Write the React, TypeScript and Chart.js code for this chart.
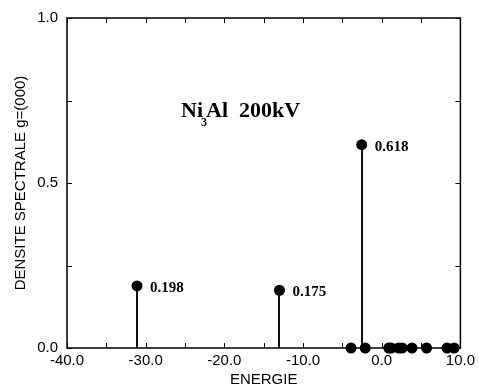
import React, { useEffect, useRef } from "react";
import { Chart, registerables } from "chart.js";

Chart.register(...registerables);

const peakEnergies = [-31.1, -13.0, -2.55];
const peakValues = [0.188, 0.175, 0.616];
const peakLabels = ["0.198", "0.175", "0.618"];
const zeroEnergies = [-3.9, -2.1, 0.9, 1.2, 2.15, 2.6, 3.85, 5.7, 8.3, 9.2];
const xTickLabels = ["-40.0", "-30.0", "-20.0", "-10.0", "0.0", "10.0"];
const yTickLabels = ["0.0", "0.5", "1.0"];
const titleMain = "Ni";
const titleSub = "3";
const titleRest = "Al";
const titleVoltage = "200kV";
const titlePos = { x: -25.5, y: 0.7 };

const SANS = "'Liberation Sans', Arial, sans-serif";
const SERIF = "'Liberation Serif', 'Times New Roman', serif";

const framePlugin = {
  id: "framePlugin",
  beforeDatasetsDraw(chart: any) {
    const { ctx, chartArea: a, scales } = chart;
    const xs = scales.x;
    const ys = scales.y;
    ctx.save();
    // stems
    ctx.strokeStyle = "#111";
    ctx.lineWidth = 2;
    peakEnergies.forEach((e, i) => {
      const px = Math.round(xs.getPixelForValue(e));
      ctx.beginPath();
      ctx.moveTo(px, ys.getPixelForValue(0));
      ctx.lineTo(px, ys.getPixelForValue(peakValues[i]));
      ctx.stroke();
    });
    ctx.restore();
  },
  afterDatasetsDraw(chart: any) {
    const { ctx, chartArea: a, scales } = chart;
    const xs = scales.x;
    const ys = scales.y;
    ctx.save();
    ctx.strokeStyle = "#000";
    ctx.lineWidth = 1.5;
    ctx.strokeRect(a.left, a.top, a.right - a.left, a.bottom - a.top);
    const tl = 5;
    ctx.lineWidth = 1;
    xs.ticks.forEach((t: any) => {
      const px = Math.round(xs.getPixelForValue(t.value)) + 0.5;
      ctx.beginPath();
      ctx.moveTo(px, a.bottom);
      ctx.lineTo(px, a.bottom - tl);
      ctx.moveTo(px, a.top);
      ctx.lineTo(px, a.top + tl);
      ctx.stroke();
    });
    ys.ticks.forEach((t: any) => {
      const py = Math.round(ys.getPixelForValue(t.value)) + 0.5;
      ctx.beginPath();
      ctx.moveTo(a.left, py);
      ctx.lineTo(a.left + tl, py);
      ctx.moveTo(a.right, py);
      ctx.lineTo(a.right - tl, py);
      ctx.stroke();
    });
    // value labels
    ctx.fillStyle = "#000";
    ctx.font = `bold 15px ${SERIF}`;
    ctx.textBaseline = "middle";
    ctx.textAlign = "left";
    peakEnergies.forEach((e, i) => {
      const px = xs.getPixelForValue(e);
      const py = ys.getPixelForValue(peakValues[i]);
      ctx.fillText(peakLabels[i], px + 13, py + 2);
    });
    // title
    ctx.textBaseline = "alphabetic";
    const tx = xs.getPixelForValue(titlePos.x);
    const ty = ys.getPixelForValue(titlePos.y);
    ctx.font = `bold 22px ${SERIF}`;
    ctx.fillText(titleMain, tx, ty);
    const niEnd = tx + ctx.measureText(titleMain).width;
    ctx.fillText(titleRest, niEnd + 3, ty);
    const alEnd = niEnd + 3 + ctx.measureText(titleRest).width;
    ctx.fillText(titleVoltage, alEnd + 11, ty);
    ctx.font = `bold 12px ${SERIF}`;
    ctx.fillText(titleSub, niEnd - 2, ty + 9);
    ctx.restore();
  },
};

export default function App() {
  const ref = useRef<HTMLCanvasElement | null>(null);
  useEffect(() => {
    document.body.style.margin = "0";
    const points = [
      ...peakEnergies.map((e, i) => ({ x: e, y: peakValues[i] })),
      ...zeroEnergies.map((e) => ({ x: e, y: 0 })),
    ];
    const chart = new Chart(ref.current as HTMLCanvasElement, {
      type: "scatter",
      data: {
        datasets: [
          {
            data: points,
            backgroundColor: "#000",
            borderColor: "#000",
            pointRadius: 5.5,
            pointHoverRadius: 5.5,
            borderWidth: 0,
            clip: false as any,
          },
        ],
      },
      options: {
        animation: false,
        responsive: false,
        events: [],
        layout: { padding: { left: 0, top: 15, right: 12, bottom: 0 } },
        plugins: { legend: { display: false }, tooltip: { enabled: false } },
        scales: {
          x: {
            type: "linear",
            min: -40,
            max: 10,
            afterFit: (s: any) => {
              s.height = 41;
            },
            grid: { display: false, drawTicks: false },
            border: { display: false },
            ticks: {
              stepSize: 5,
              padding: 4,
              color: "#000",
              font: { family: SANS, size: 15 },
              maxRotation: 0,
              autoSkip: false,
              callback: (v: any) => {
                const n = Number(v);
                if (Math.abs(n % 10) > 1e-9) return "";
                const idx = Math.round((n + 40) / 10);
                return xTickLabels[idx] ?? "";
              },
            },
            title: {
              display: true,
              text: "ENERGIE",
              color: "#000",
              font: { family: SANS, size: 15 },
              padding: { top: 0, bottom: 0 },
            },
          },
          y: {
            type: "linear",
            min: 0,
            max: 1,
            afterFit: (s: any) => {
              s.width = 67;
            },
            grid: { display: false, drawTicks: false },
            border: { display: false },
            ticks: {
              stepSize: 0.25,
              padding: 9,
              color: "#000",
              font: { family: SANS, size: 15 },
              autoSkip: false,
              callback: (v: any) => {
                const n = Number(v);
                const k = Math.round(n * 4);
                if (k % 2 !== 0) return "";
                return yTickLabels[k / 2] ?? "";
              },
            },
            title: {
              display: true,
              text: "DENSITE SPECTRALE g=(000)",
              color: "#000",
              font: { family: SANS, size: 15 },
              padding: { top: 12, bottom: 0 },
            },
          },
        },
      },
      plugins: [framePlugin],
    });
    return () => chart.destroy();
  }, []);
  return (
    <div style={{ position: "absolute", left: 0, top: 0, width: 479, height: 389, background: "#fff" }}>
      <canvas ref={ref} width={479} height={389} />
    </div>
  );
}
